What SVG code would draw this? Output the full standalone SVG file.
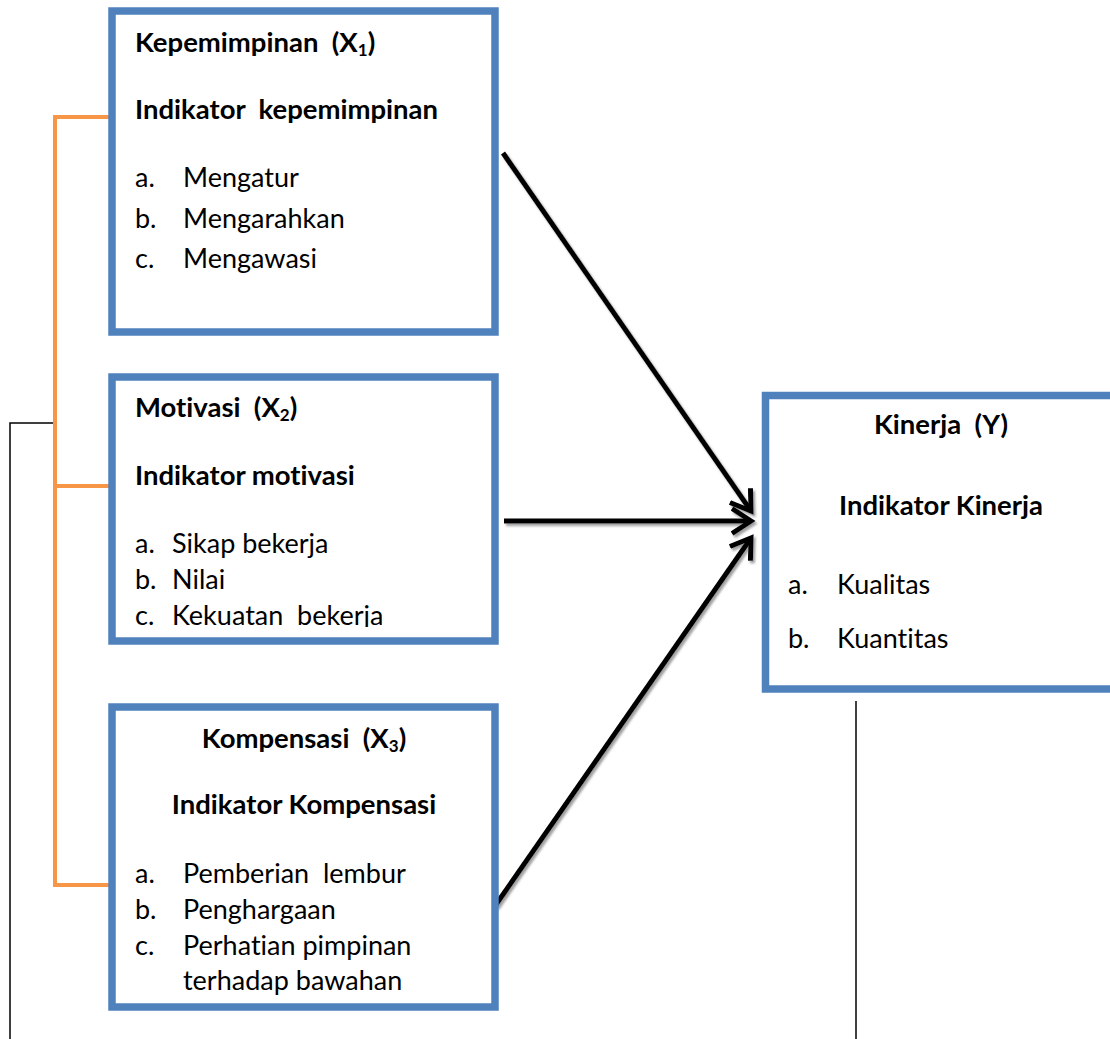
<svg xmlns="http://www.w3.org/2000/svg" width="1110" height="1039" viewBox="0 0 1110 1039">
<style>
.box{fill:#fff;stroke:#4F81BD;stroke-width:7.5}
.t{font-family:Lato,"Open Sans",sans-serif;font-size:27px;fill:#000;white-space:pre;font-variant-ligatures:none;font-feature-settings:"liga" 0,"clig" 0}
.b{font-weight:bold;font-size:27.5px}
.c{text-anchor:middle}
.sub{font-size:17px}
.arrow{stroke:#000;stroke-width:5;fill:none;marker-end:url(#ah)}
.orange{stroke:#F79646;stroke-width:4;fill:none}
.thin{stroke:#000;stroke-width:1.5;fill:none}
</style>
<defs>
<marker id="ah" markerUnits="userSpaceOnUse" markerWidth="40" markerHeight="40" refX="20" refY="20" orient="auto" viewBox="0 0 40 40">
<path d="M1,7.5 L20,20 L1,32.5" fill="none" stroke="#000" stroke-width="5" stroke-linejoin="miter" stroke-linecap="butt"/>
</marker>
<filter id="sh" filterUnits="userSpaceOnUse" x="0" y="0" width="1110" height="1039">
<feDropShadow dx="2" dy="2.5" stdDeviation="0.8" flood-color="#777" flood-opacity="0.7"/>
</filter>
<clipPath id="clip2"><rect x="112" y="377" width="383" height="250"/></clipPath>
</defs>
<g id="connectors">
<path class="thin" d="M10,1039 V423 H53"/>
<path class="thin" d="M856,701 V1039" stroke-width="2"/>
<path class="orange" d="M110,117 H55 V885 H112"/>
<path class="orange" d="M55,486 H110"/>
<g filter="url(#sh)">
<line class="arrow" x1="503" y1="153" x2="751" y2="511"/>
<line class="arrow" x1="504" y1="521" x2="751" y2="521"/>
<line class="arrow" x1="495" y1="906" x2="751" y2="538"/>
</g>
</g>
<g id="node-x1">
<rect class="box" x="112" y="11" width="383" height="321"/>
<text class="t b" x="135" y="52">Kepemimpinan  (X<tspan class="sub" dy="4">1</tspan><tspan dy="-4">)</tspan></text>
<text class="t b" x="135" y="119">Indikator  kepemimpinan</text>
<text class="t" x="135" y="187">a.</text><text class="t" x="183" y="187">Mengatur</text>
<text class="t" x="135" y="228">b.</text><text class="t" x="183" y="228">Mengarahkan</text>
<text class="t" x="135" y="268">c.</text><text class="t" x="183" y="268">Mengawasi</text>
</g>
<g id="node-x2">
<rect class="box" x="112" y="377" width="383" height="264"/>
<g clip-path="url(#clip2)">
<text class="t b" x="135" y="417">Motivasi  (X<tspan class="sub" dy="4">2</tspan><tspan dy="-4">)</tspan></text>
<text class="t b" x="135" y="485">Indikator motivasi</text>
<text class="t" x="135" y="553">a.</text><text class="t" x="172" y="553">Sikap bekerja</text>
<text class="t" x="135" y="589">b.</text><text class="t" x="172" y="589">Nilai</text>
<text class="t" x="135" y="625">c.</text><text class="t" x="172" y="625">Kekuatan  bekerja</text>
</g>
</g>
<g id="node-x3">
<rect class="box" x="112" y="707" width="383" height="300"/>
<text class="t b c" x="304" y="748">Kompensasi  (X<tspan class="sub" dy="4">3</tspan><tspan dy="-4">)</tspan></text>
<text class="t b c" x="304" y="814">Indikator Kompensasi</text>
<text class="t" x="135" y="883">a.</text><text class="t" x="183" y="883">Pemberian  lembur</text>
<text class="t" x="135" y="919">b.</text><text class="t" x="183" y="919">Penghargaan</text>
<text class="t" x="135" y="955">c.</text><text class="t" x="183" y="955">Perhatian pimpinan</text>
<text class="t" x="183" y="990">terhadap bawahan</text>
</g>
<g id="node-y">
<rect class="box" x="765.5" y="395.5" width="360" height="293.5"/>
<text class="t b c" x="941" y="434">Kinerja  (Y)</text>
<text class="t b c" x="941" y="515">Indikator Kinerja</text>
<text class="t" x="788" y="594">a.</text><text class="t" x="837" y="594">Kualitas</text>
<text class="t" x="788" y="648">b.</text><text class="t" x="837" y="648">Kuantitas</text>
</g>
</svg>
